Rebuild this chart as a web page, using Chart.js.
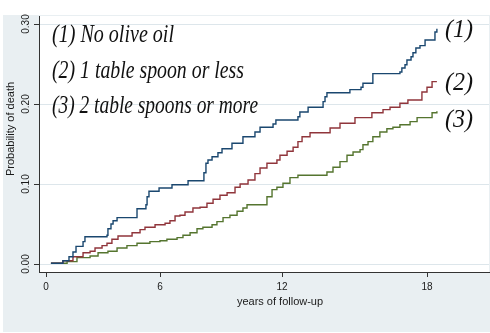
<!DOCTYPE html>
<html><head><meta charset="utf-8">
<script src="https://cdn.jsdelivr.net/npm/chart.js@4/dist/chart.umd.min.js"></script>
<style>html,body{margin:0;padding:0;background:#fff;}canvas{display:block}</style>
</head><body>
<canvas id="c" width="490" height="333"></canvas>
<script>
// ---- data ----
const xTicks = [0, 6, 12, 18];
const xTickLabels = ['0', '6', '12', '18'];
const yTicks = [0, 0.1, 0.2, 0.3];
const yTickLabels = ['0.00', '0.10', '0.20', '0.30'];
const seriesNames = ['(1) No olive oil', '(2) 1 table spoon or less', '(3) 2 table spoons or more'];
const endLabels = ['(1)', '(2)', '(3)'];
const xTitle = 'years of follow-up';
const yTitle = 'Probability of death';

const yearsNone = [0.26, 0.89, 1.21, 1.42, 1.58, 1.95, 2.05, 3.21, 3.26, 3.42, 3.53, 3.74, 4.79, 5.26, 5.32, 5.42, 5.95, 6.59, 7.38, 8.16, 8.26, 8.36, 8.56, 8.85, 9.05, 9.54, 10.08, 10.67, 10.92, 11.56, 11.70, 12.66, 12.74, 13.08, 13.70, 13.78, 13.86, 14.81, 15.27, 15.35, 15.76, 16.88, 16.96, 17.09, 17.17, 17.34, 17.42, 17.54, 17.71, 17.92, 18.33, 18.41];
const probNone  = [0.001, 0.004, 0.009, 0.015, 0.022, 0.028, 0.034, 0.036, 0.044, 0.050, 0.054, 0.058, 0.069, 0.074, 0.084, 0.091, 0.095, 0.099, 0.104, 0.114, 0.126, 0.130, 0.134, 0.139, 0.144, 0.151, 0.159, 0.165, 0.171, 0.175, 0.180, 0.184, 0.190, 0.196, 0.203, 0.209, 0.214, 0.218, 0.221, 0.226, 0.238, 0.240, 0.245, 0.249, 0.255, 0.259, 0.264, 0.270, 0.273, 0.280, 0.290, 0.294];

const yearsOne = [0.26, 0.89, 1.42, 1.95, 2.32, 2.58, 2.95, 3.21, 3.47, 3.79, 4.53, 4.95, 5.21, 5.74, 6.25, 6.49, 6.74, 6.98, 7.23, 7.62, 7.97, 8.31, 8.61, 8.95, 9.30, 9.69, 9.94, 10.33, 10.67, 10.92, 11.26, 11.75, 11.90, 12.21, 12.46, 12.66, 12.83, 13.16, 13.99, 14.40, 15.02, 15.72, 16.18, 16.47, 16.88, 17.21, 17.79, 18.00, 18.21, 18.41];
const probOne  = [0.001, 0.004, 0.009, 0.014, 0.016, 0.020, 0.023, 0.026, 0.031, 0.035, 0.039, 0.043, 0.046, 0.049, 0.051, 0.054, 0.060, 0.061, 0.065, 0.070, 0.071, 0.076, 0.081, 0.086, 0.089, 0.096, 0.100, 0.105, 0.113, 0.120, 0.126, 0.130, 0.136, 0.141, 0.146, 0.153, 0.159, 0.164, 0.170, 0.176, 0.183, 0.189, 0.193, 0.196, 0.201, 0.205, 0.215, 0.221, 0.228, 0.228];

const yearsTwo = [0.26, 1.11, 1.63, 2.32, 2.74, 3.26, 3.74, 4.26, 4.79, 5.47, 6.00, 6.34, 6.84, 7.13, 7.48, 7.82, 8.11, 8.56, 8.80, 9.10, 9.44, 9.79, 10.08, 10.28, 11.26, 11.51, 11.75, 12.04, 12.33, 12.66, 13.86, 14.11, 14.40, 14.69, 14.94, 15.23, 15.35, 15.56, 15.76, 16.05, 16.34, 16.59, 16.88, 17.30, 17.59, 18.21, 18.41];
const probTwo  = [0.001, 0.003, 0.008, 0.010, 0.014, 0.016, 0.020, 0.023, 0.026, 0.028, 0.029, 0.031, 0.033, 0.036, 0.039, 0.044, 0.046, 0.049, 0.053, 0.058, 0.061, 0.066, 0.070, 0.074, 0.084, 0.093, 0.096, 0.101, 0.108, 0.111, 0.115, 0.121, 0.128, 0.136, 0.140, 0.143, 0.149, 0.153, 0.159, 0.165, 0.169, 0.171, 0.174, 0.178, 0.183, 0.189, 0.191];

// ---- a linear scale whose tick spacing follows the reference (uneven) ----
const knotFrac = [7/450, 121/450, 243/450, 388/450];
class KnotScale extends Chart.LinearScale {
  _knots() {
    return { vs: [this.min, ...xTicks, this.max], fs: [0, ...knotFrac, 1] };
  }
  getPixelForValue(v) {
    if (v === null || v === undefined || isNaN(v)) return NaN;
    const { vs, fs } = this._knots();
    let i = 0;
    while (i < vs.length - 2 && v > vs[i + 1]) i++;
    const d = fs[i] + (v - vs[i]) * (fs[i + 1] - fs[i]) / (vs[i + 1] - vs[i]);
    return this.getPixelForDecimal(d);
  }
  getValueForPixel(p) {
    const d = this.getDecimalForPixel(p);
    const { vs, fs } = this._knots();
    let i = 0;
    while (i < fs.length - 2 && d > fs[i + 1]) i++;
    return vs[i] + (d - fs[i]) * (vs[i + 1] - vs[i]) / (fs[i + 1] - fs[i]);
  }
}
KnotScale.id = 'knot';
KnotScale.defaults = Chart.LinearScale.defaults;
Chart.register(KnotScale);

const toPts = (xs, ys) => xs.map((x, i) => ({ x, y: ys[i] }));

const framePlugin = {
  id: 'frame',
  beforeDraw(chart) {
    const { ctx, chartArea: a } = chart;
    ctx.save();
    ctx.fillStyle = '#ffffff';
    ctx.fillRect(0, 0, chart.width, chart.height);
    ctx.fillStyle = '#e9eff2';
    ctx.fillRect(3, 15, chart.width - 3, 317);
    ctx.fillStyle = '#ffffff';
    ctx.fillRect(a.left, a.top, a.right - a.left, a.bottom - a.top);
    ctx.restore();
  },
  afterDraw(chart) {
    const { ctx } = chart;
    const ys = chart.scales.y;
    ctx.save();
    // y tick labels (rotated)
    ctx.fillStyle = '#1a1a1a';
    ctx.font = '10px "Liberation Sans", Arial, sans-serif';
    ctx.textAlign = 'center';
    ctx.textBaseline = 'middle';
    yTicks.forEach((v, i) => {
      const py = ys.getPixelForValue(v);
      ctx.save();
      ctx.translate(26, py);
      ctx.rotate(-Math.PI / 2);
      ctx.fillText(yTickLabels[i], 0, 0);
      ctx.restore();
    });
    // axis titles
    ctx.font = '11px "Liberation Sans", Arial, sans-serif';
    ctx.save();
    ctx.translate(11, 129);
    ctx.rotate(-Math.PI / 2);
    ctx.fillText(yTitle, 0, 0);
    ctx.restore();
    ctx.fillText(xTitle, 280, 302);
    // handwritten-style annotations
    ctx.fillStyle = '#111';
    ctx.textAlign = 'left';
    ctx.textBaseline = 'alphabetic';
    ctx.font = 'italic 25px "Liberation Serif", serif';
    const lx = 52, lys = [42, 78, 113], lw = [122, 192, 206];
    seriesNames.forEach((s, i) => ctx.fillText(s, lx, lys[i], lw[i]));
    const ry = [37, 90, 127];
    endLabels.forEach((s, i) => ctx.fillText(s, 445, ry[i], 28));
    ctx.restore();
  }
};

new Chart(document.getElementById('c'), {
  type: 'line',
  data: {
    datasets: [
      { label: seriesNames[0], data: toPts(yearsNone, probNone), borderColor: '#1a476f' },
      { label: seriesNames[1], data: toPts(yearsOne, probOne), borderColor: '#90353b' },
      { label: seriesNames[2], data: toPts(yearsTwo, probTwo), borderColor: '#55752f' }
    ].map(d => Object.assign(d, { stepped: true, borderWidth: 1.4, pointRadius: 0, fill: false, tension: 0 }))
  },
  options: {
    responsive: false,
    animation: false,
    devicePixelRatio: 1,
    layout: { padding: { left: 0, top: 16, right: 1, bottom: 0 } },
    plugins: { legend: { display: false }, tooltip: { enabled: false }, title: { display: false } },
    scales: {
      x: {
        type: 'knot', min: -0.37, max: 20.57,
        afterBuildTicks: s => { s.ticks = xTicks.map(v => ({ value: v })); },
        afterFit: s => { s.height = 61; },
        grid: { drawOnChartArea: false, drawTicks: true, tickLength: 5, color: '#333', tickColor: '#333' },
        border: { color: '#333', width: 1 },
        ticks: {
          font: { family: '"Liberation Sans", Arial, sans-serif', size: 10 }, color: '#1a1a1a',
          padding: 4, maxRotation: 0, minRotation: 0, autoSkip: false,
          callback: v => xTickLabels[xTicks.indexOf(v)]
        }
      },
      y: {
        type: 'linear', min: -0.01, max: 0.31,
        afterBuildTicks: s => { s.ticks = yTicks.map(v => ({ value: v })); },
        afterFit: s => { s.width = 39; },
        grid: { color: '#dde6eb', tickColor: '#333', tickLength: 5, drawTicks: true, lineWidth: 1 },
        border: { color: '#333', width: 1 },
        ticks: { display: false }
      }
    }
  },
  plugins: [framePlugin]
});
</script>
</body></html>
